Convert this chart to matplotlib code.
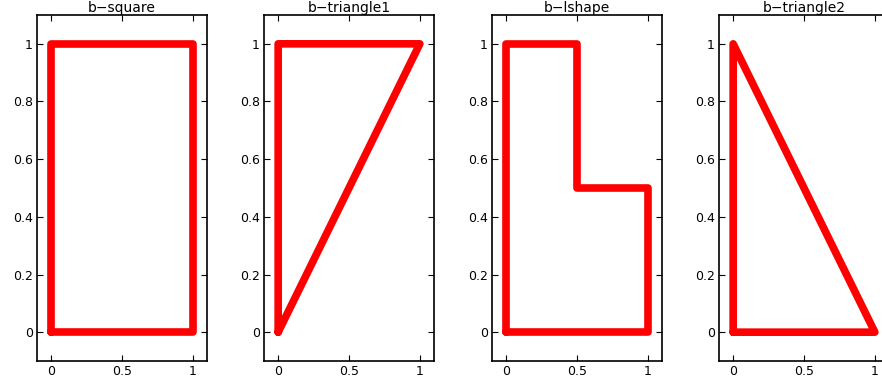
import matplotlib.pyplot as plt

plt.rcParams['font.family'] = ['DejaVu Sans']

titles = ["b\u2212square", "b\u2212triangle1", "b\u2212lshape", "b\u2212triangle2"]
xs = [
    [0, 1, 1, 0, 0],
    [0, 1, 0, 0],
    [0, 1, 1, 0.5, 0.5, 0, 0],
    [0, 1, 0, 0],
]
ys = [
    [0, 0, 1, 1, 0],
    [0, 1, 1, 0],
    [0, 0, 0.5, 0.5, 1, 1, 0],
    [0, 0, 1, 0],
]
xticks = [0, 0.5, 1]
xticklabels = ["0", "0.5", "1"]
yticks = [0, 0.2, 0.4, 0.6, 0.8, 1]
yticklabels = ["0", "0.2", "0.4", "0.6", "0.8", "1"]

fig = plt.figure(figsize=(8.82, 3.8), dpi=100)
lefts = [37, 264, 492, 719]
for i in range(4):
    ax = fig.add_axes([lefts[i] / 882, 19 / 380, 170 / 882, 346 / 380])
    ax.plot(xs[i], ys[i], color="#ff0000", lw=5.5, solid_joinstyle="round",
            solid_capstyle="round")
    ax.set_xlim(-0.1, 1.1)
    ax.set_ylim(-0.1, 1.1)
    ax.set_xticks(xticks)
    ax.set_xticklabels(xticklabels)
    ax.set_yticks(yticks)
    ax.set_yticklabels(yticklabels)
    ax.tick_params(direction="in", top=True, right=True, length=4, width=0.8,
                   labelsize=9, pad=3)
    for s in ax.spines.values():
        s.set_linewidth(1.2)
    ax.set_title(titles[i], fontsize=10, pad=2)

fig.savefig("out.png", dpi=100)
